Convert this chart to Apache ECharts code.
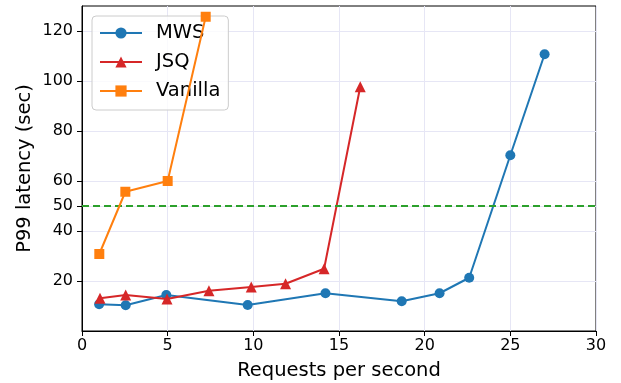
<!DOCTYPE html>
<html>
<head>
<meta charset="utf-8">
<script src="https://cdn.jsdelivr.net/npm/echarts@6/dist/echarts.min.js"></script>
<style>
  html, body { margin: 0; padding: 0; background: #fff; }
  #chart { width: 621px; height: 383px; }
</style>
</head>
<body>
<div id="chart"></div>
<script>
// Request rate (req/s) vs. P99 latency (sec) for three schedulers
const mwsRate = [1.0, 2.55, 4.92, 9.67, 14.21, 18.66, 20.87, 22.6, 25.0, 27.0];
const mwsP99 = [10.7, 10.3, 14.4, 10.4, 15.1, 11.9, 15.1, 21.3, 70.3, 110.7];

const jsqRate = [1.05, 2.55, 4.96, 7.41, 9.88, 11.88, 14.13, 16.24];
const jsqP99 = [13.1, 14.4, 12.8, 16.1, 17.6, 18.9, 24.9, 97.7];

const vanillaRate = [1.01, 2.53, 5.0, 7.22];
const vanillaP99 = [30.8, 55.7, 60.0, 125.7];

const yTicks = [20, 40, 50, 60, 80, 100, 120];
const sloLatency = 50;

const FONT = 'DejaVu Sans';
const pairs = (xs, ys) => xs.map((x, i) => [x, ys[i]]);

const chart = echarts.init(document.getElementById('chart'), null, { renderer: 'canvas' });

const gridColor = '#e6e6f5';

chart.setOption({
  animation: false,
  backgroundColor: '#ffffff',
  textStyle: { fontFamily: FONT, color: '#000' },
  grid: {
    left: 82, right: 25, top: 6, bottom: 52,
    outerBoundsMode: 'none',
    show: true, borderColor: '#000', borderWidth: 1, backgroundColor: 'transparent'
  },
  legend: {
    left: 92, top: 16,
    orient: 'vertical',
    itemWidth: 42, itemHeight: 14, itemGap: 9,
    padding: [7, 8, 9, 7],
    backgroundColor: 'rgba(255,255,255,0.8)',
    borderColor: '#cccccc', borderWidth: 1, borderRadius: 4,
    textStyle: { fontFamily: FONT, fontSize: 19.5, color: '#000', lineHeight: 20, padding: [0, 0, 0, 9] },
    data: ['MWS', 'JSQ', 'Vanilla']
  },
  xAxis: {
    type: 'value', min: 0, max: 30, interval: 5,
    name: 'Requests per second', nameLocation: 'middle', nameGap: 30,
    nameMoveOverlap: false,
    nameTextStyle: { fontFamily: FONT, fontSize: 19.5, color: '#000' },
    axisLine: { show: true, lineStyle: { color: '#000', width: 1 } },
    axisTick: { show: true, inside: false, length: 5, lineStyle: { color: '#000' } },
    axisLabel: { fontFamily: FONT, fontSize: 16, color: '#000', margin: 7 },
    splitLine: { show: true, lineStyle: { color: gridColor, width: 1 } }
  },
  yAxis: {
    type: 'value', min: 0, max: 130,
    name: 'P99 latency (sec)', nameLocation: 'middle', nameGap: 47,
    nameMoveOverlap: false,
    nameTextStyle: { fontFamily: FONT, fontSize: 19.5, color: '#000' },
    axisLine: { show: true, lineStyle: { color: '#000', width: 1 } },
    axisTick: { show: true, inside: false, length: 5, lineStyle: { color: '#000' }, customValues: yTicks },
    axisLabel: { fontFamily: FONT, fontSize: 16, color: '#000', margin: 9, customValues: yTicks },
    splitLine: { show: true, lineStyle: { color: gridColor, width: 1 } }
  },
  series: [
    {
      name: 'MWS', type: 'line', data: pairs(mwsRate, mwsP99),
      color: '#1f77b4', symbol: 'circle', symbolSize: 10, showAllSymbol: true,
      lineStyle: { width: 2 }, itemStyle: { color: '#1f77b4' }, z: 3,
      markLine: {
        silent: true, symbol: ['none', 'none'], label: { show: false },
        lineStyle: { color: '#2ca02c', type: [7, 4], width: 2 },
        data: [{ yAxis: sloLatency }]
      }
    },
    {
      name: 'JSQ', type: 'line', data: pairs(jsqRate, jsqP99),
      color: '#d62728', symbol: 'triangle', symbolSize: 11, showAllSymbol: true,
      lineStyle: { width: 2 }, itemStyle: { color: '#d62728' }, z: 4
    },
    {
      name: 'Vanilla', type: 'line', data: pairs(vanillaRate, vanillaP99),
      color: '#ff7f0e', symbol: 'rect', symbolSize: 10, showAllSymbol: true,
      lineStyle: { width: 2 }, itemStyle: { color: '#ff7f0e' }, z: 5
    }
  ]
});
</script>
</body>
</html>
